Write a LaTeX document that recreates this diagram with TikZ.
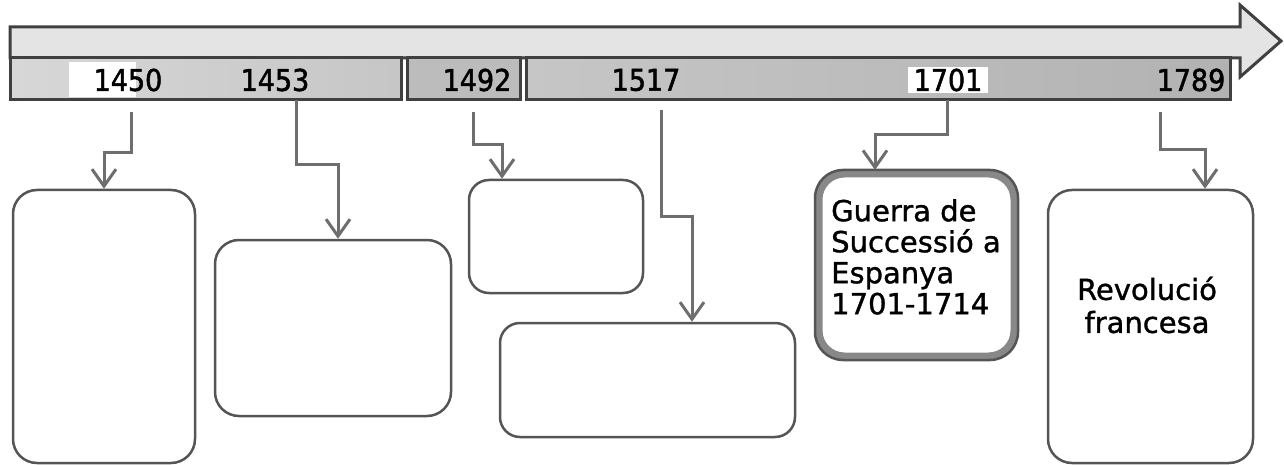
\documentclass[tikz,border=0pt]{standalone}
\usepackage{fontspec}
\setmainfont{DejaVu Sans}
\newfontfamily\yearfont[FakeBold=1.6]{DejaVu Sans Condensed}
\newfontfamily\boxfont[FakeBold=1.2]{DejaVu Sans}
\usetikzlibrary{arrows.meta}
\definecolor{frame}{HTML}{404040}
\definecolor{shaft}{HTML}{E4E4E4}
\definecolor{band}{HTML}{C6C6C6}
\definecolor{conncol}{HTML}{6E6E6E}
\definecolor{boxcol}{HTML}{555555}
\tikzset{
  yearlbl/.style={font=\yearfont\fontsize{30}{30}\selectfont, inner sep=2pt, text=black},
  conn/.style={draw=conncol, line width=3pt, -{Straight Barb[length=17pt,width=24pt]}},
  box/.style={draw=boxcol, line width=2.5pt, rounded corners=24pt, fill=white},
  boxtext/.style={font=\boxfont\fontsize{29}{31}\selectfont, text=black, inner sep=0pt}
}
\begin{document}
\begin{tikzpicture}[x=1pt,y=-1pt]
\useasboundingbox (0,0) rectangle (1284,465);
\fill[white] (0,0) rectangle (1284,465);
% timeline arrow
\draw[frame, line width=3pt, fill=shaft, line join=miter]
  (10,27) -- (1240,27) -- (1240,5) -- (1281,41) -- (1240,77) -- (1240,58) -- (10,58) -- cycle;
% year band segments
\shade[left color=band!70!white, right color=band] (10,58) rectangle (401,100);
\draw[frame, line width=3pt] (10,58) rectangle (401,100);
\fill[band!95!black] (407,58) rectangle (520,100);
\draw[frame, line width=3pt] (407,58) rectangle (520,100);
\shade[left color=band, middle color=white!92!black, right color=band!90!black] (526,58) rectangle (1230,100);
\draw[frame, line width=3pt] (526,58) rectangle (1230,100);
\fill[white] (69,62) rectangle (136,97);
% years
\node[yearlbl] (y1450) at (128,80) {1450};
\node[yearlbl] (y1453) at (275,80) {1453};
\node[yearlbl] (y1492) at (477,80) {1492};
\node[yearlbl] (y1517) at (646,80) {1517};
\node[yearlbl, fill=white, inner xsep=6pt] (y1701) at (948,80) {1701};
\node[yearlbl] (y1789) at (1191,80) {1789};
% boxes
\node[box, minimum width=182pt, minimum height=273pt] (b1) at (104,326.5) {};
\node[box, minimum width=236pt, minimum height=176pt] (b2) at (333,328) {};
\node[box, minimum width=174pt, minimum height=113pt, rounded corners=20pt] (b3) at (556,236.5) {};
\node[box, minimum width=295pt, minimum height=114pt, rounded corners=20pt] (b4) at (647.5,380) {};
\node[draw=boxcol!70!white, line width=8pt, rounded corners=26pt, fill=white, minimum width=196pt, minimum height=183pt] (b5) at (916.5,265) {};
\draw[boxcol, line width=2.5pt, rounded corners=28pt] (815,170) rectangle (1018,360);
\node[box, minimum width=205pt, minimum height=273pt] (b6) at (1150.5,326.5) {};
% texts in boxes
\node[boxtext, align=left, anchor=north west] (t5) at (831,199) {Guerra de\\Successió a\\Espanya\\1701-1714};
\node[boxtext, align=center, font=\boxfont\fontsize{29}{33}\selectfont] (t6) at (1147,305) {Revolució\\francesa};
% connector bends
\coordinate (s1) at (131,112); \coordinate (k1) at (104,153);
\coordinate (s2) at (296,100); \coordinate (k2) at (338,165);
\coordinate (s3) at (473,112); \coordinate (k3) at (502,145);
\coordinate (s4) at (661,110); \coordinate (k4) at (692,216);
\coordinate (s5) at (947,100); \coordinate (k5) at (875,135);
\coordinate (s6) at (1160,112); \coordinate (k6) at (1205,150);
\draw[conn] (s1) |- (k1) -- (k1 |- b1.north);
\draw[conn] (s2) |- (k2) -- (k2 |- b2.north);
\draw[conn] (s3) |- (k3) -- (k3 |- b3.north);
\draw[conn] (s4) |- (k4) -- (k4 |- b4.north);
\draw[conn] (s5) |- (k5) -- (k5 |- 0,170);
\draw[conn] (s6) |- (k6) -- (k6 |- b6.north);
\end{tikzpicture}
\end{document}
